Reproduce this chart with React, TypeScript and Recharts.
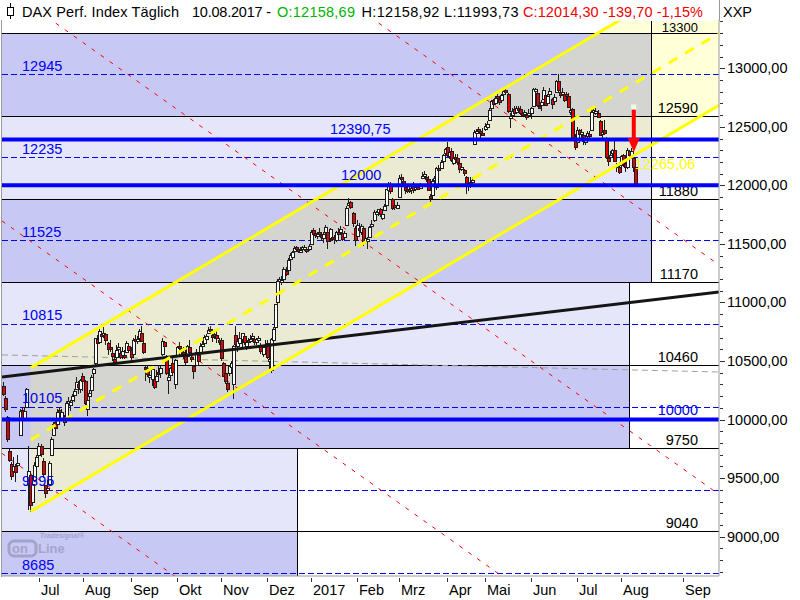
import React from 'react';
import {
  ComposedChart,
  Bar,
  Line,
  Area,
  XAxis,
  YAxis,
  ReferenceLine,
  ReferenceArea,
  ReferenceDot,
} from 'recharts';

type Ohlc = [number, number, number, number];

// DAX daily candles, open / high / low / close
const jun2016: Ohlc[] = [
  [10290, 10320, 10200, 10220], [10180, 10200, 10060, 10088], [10020, 10030, 9810, 9834],
  [9730, 9760, 9640, 9657], [9620, 9640, 9490, 9519], [9560, 9680, 9540, 9606],
  [9600, 9620, 9470, 9550], [9610, 9700, 9580, 9631], [9870, 10090, 9860, 10072],
  [10080, 10110, 9970, 10015], [10010, 10110, 9990, 10071], [10110, 10270, 10100, 10257],
  [9450, 9770, 9226, 9557], [9530, 9560, 9214, 9268], [9300, 9480, 9280, 9447],
  [9480, 9640, 9470, 9612], [9600, 9700, 9520, 9680],
];
const jul2016: Ohlc[] = [
  [9700, 9800, 9650, 9776], [9770, 9790, 9680, 9709], [9650, 9670, 9500, 9532],
  [9440, 9440, 9330, 9373], [9410, 9480, 9360, 9418], [9450, 9650, 9440, 9629],
  [9700, 9850, 9690, 9833], [9870, 9980, 9860, 9964], [9980, 10000, 9900, 9930],
  [9960, 10090, 9940, 10068], [10080, 10110, 10020, 10066], [10000, 10090, 9990, 10063],
  [10030, 10040, 9950, 9981], [10010, 10160, 10000, 10142], [10150, 10190, 10080, 10156],
  [10120, 10170, 10080, 10147], [10170, 10220, 10140, 10198], [10210, 10260, 10150, 10247],
  [10260, 10360, 10250, 10319], [10300, 10330, 10220, 10274], [10260, 10350, 10230, 10337],
];
const aug2016: Ohlc[] = [
  [10370, 10400, 10250, 10330], [10330, 10340, 10130, 10144], [10090, 10180, 10030, 10170],
  [10200, 10250, 10160, 10228], [10250, 10380, 10220, 10367], [10400, 10440, 10360, 10432],
  [10480, 10700, 10470, 10693], [10690, 10720, 10620, 10650], [10660, 10770, 10640, 10755],
  [10730, 10760, 10680, 10713], [10720, 10790, 10700, 10740], [10730, 10740, 10640, 10677],
  [10650, 10660, 10550, 10603], [10620, 10680, 10580, 10603], [10570, 10590, 10500, 10544],
  [10520, 10560, 10460, 10494], [10530, 10640, 10510, 10593], [10610, 10650, 10580, 10622],
  [10570, 10590, 10510, 10530], [10550, 10620, 10520, 10587], [10550, 10590, 10510, 10544],
  [10580, 10670, 10570, 10657], [10630, 10650, 10570, 10593],
];
const sep2016: Ohlc[] = [
  [10590, 10620, 10510, 10534], [10560, 10700, 10550, 10683], [10690, 10720, 10650, 10672],
  [10670, 10710, 10640, 10687], [10700, 10770, 10680, 10752], [10740, 10800, 10660, 10675],
  [10650, 10680, 10560, 10573], [10450, 10460, 10330, 10431], [10440, 10470, 10370, 10386],
  [10370, 10430, 10310, 10379], [10350, 10440, 10290, 10431], [10350, 10370, 10260, 10276],
  [10330, 10420, 10320, 10373], [10410, 10470, 10370, 10393], [10400, 10460, 10360, 10436],
  [10560, 10700, 10550, 10674], [10660, 10670, 10600, 10626], [10540, 10550, 10380, 10394],
  [10340, 10390, 10220, 10362], [10380, 10450, 10330, 10438], [10480, 10530, 10380, 10405],
  [10300, 10520, 10260, 10511],
];
const oct2016: Ohlc[] = [
  [10550, 10630, 10540, 10619], [10630, 10660, 10580, 10620], [10600, 10630, 10540, 10585],
  [10580, 10620, 10520, 10569], [10560, 10590, 10460, 10490], [10540, 10640, 10530, 10624],
  [10620, 10680, 10560, 10577], [10530, 10570, 10490, 10523], [10460, 10470, 10350, 10414],
  [10470, 10600, 10460, 10580], [10550, 10560, 10480, 10503], [10570, 10650, 10560, 10631],
  [10630, 10670, 10600, 10646], [10650, 10720, 10620, 10701], [10690, 10730, 10650, 10711],
  [10740, 10790, 10730, 10761], [10770, 10800, 10740, 10757], [10720, 10730, 10660, 10709],
  [10730, 10760, 10690, 10717], [10720, 10760, 10660, 10696], [10680, 10700, 10640, 10665],
];
const nov2016: Ohlc[] = [
  [10680, 10700, 10500, 10526], [10480, 10490, 10360, 10371], [10400, 10440, 10300, 10325],
  [10310, 10370, 10230, 10259], [10400, 10470, 10380, 10456], [10450, 10500, 10420, 10482],
  [10300, 10640, 10175, 10630], [10720, 10800, 10620, 10646], [10630, 10680, 10580, 10667],
  [10650, 10750, 10640, 10693], [10690, 10740, 10610, 10735], [10710, 10730, 10640, 10664],
  [10630, 10690, 10600, 10663], [10680, 10700, 10620, 10665], [10680, 10720, 10650, 10686],
  [10700, 10740, 10680, 10713], [10690, 10700, 10640, 10662], [10660, 10700, 10640, 10689],
  [10690, 10710, 10670, 10700], [10640, 10650, 10560, 10582], [10560, 10630, 10540, 10620],
  [10640, 10680, 10610, 10640],
];
const dec2016: Ohlc[] = [
  [10650, 10680, 10520, 10534], [10500, 10560, 10410, 10513], [10420, 10700, 10400, 10684],
  [10680, 10790, 10660, 10775], [10790, 10990, 10780, 10986], [11000, 11200, 10980, 11179],
  [11180, 11220, 11150, 11203], [11190, 11230, 11150, 11190], [11200, 11300, 11190, 11284],
  [11270, 11300, 11220, 11244], [11280, 11380, 11270, 11366], [11370, 11420, 11350, 11404],
  [11390, 11440, 11380, 11427], [11440, 11480, 11430, 11464], [11470, 11480, 11440, 11468],
  [11460, 11470, 11420, 11456], [11450, 11470, 11430, 11450], [11460, 11480, 11440, 11473],
  [11470, 11490, 11440, 11475], [11460, 11470, 11420, 11451], [11460, 11500, 11440, 11481],
];
const jan2017: Ohlc[] = [
  [11500, 11620, 11490, 11599], [11620, 11640, 11560, 11585], [11590, 11600, 11550, 11584],
  [11570, 11600, 11540, 11585], [11600, 11640, 11570, 11599], [11580, 11590, 11520, 11564],
  [11550, 11600, 11510, 11583], [11600, 11660, 11550, 11646], [11600, 11620, 11460, 11521],
  [11550, 11640, 11520, 11629], [11560, 11580, 11530, 11555], [11560, 11580, 11500, 11540],
  [11530, 11610, 11520, 11599], [11600, 11640, 11570, 11597], [11600, 11650, 11580, 11630],
  [11590, 11600, 11520, 11545], [11560, 11610, 11530, 11595], [11660, 11820, 11650, 11806],
  [11830, 11890, 11820, 11848], [11860, 11870, 11800, 11815], [11760, 11770, 11640, 11681],
  [11640, 11650, 11480, 11535],
];
const feb2017: Ohlc[] = [
  [11570, 11700, 11560, 11659], [11640, 11680, 11560, 11627], [11600, 11670, 11580, 11651],
  [11640, 11650, 11480, 11509], [11520, 11580, 11500, 11549], [11540, 11560, 11460, 11543],
  [11560, 11650, 11550, 11643], [11660, 11700, 11640, 11666], [11700, 11790, 11690, 11774],
  [11770, 11780, 11740, 11771], [11770, 11800, 11740, 11794], [11800, 11810, 11730, 11757],
  [11720, 11760, 11700, 11757], [11790, 11840, 11780, 11827], [11830, 11970, 11820, 11967],
  [11960, 12030, 11950, 11998], [12000, 12030, 11930, 11948], [11880, 11890, 11790, 11804],
  [11830, 11860, 11790, 11822], [11810, 11860, 11800, 11834],
];
const mar2017: Ohlc[] = [
  [11900, 12090, 11890, 12067], [12070, 12100, 12030, 12060], [12040, 12060, 11990, 12027],
  [11990, 12000, 11920, 11958], [11970, 12000, 11930, 11967], [11970, 12010, 11930, 11967],
  [11960, 12000, 11920, 11978], [12000, 12030, 11940, 11963], [11980, 12010, 11960, 11990],
  [11990, 12010, 11960, 11989], [11980, 12020, 11970, 12009], [12070, 12110, 12050, 12083],
  [12090, 12120, 12070, 12095], [12070, 12080, 12030, 12052], [12050, 12080, 11950, 11962],
  [11910, 11930, 11860, 11905], [11920, 12050, 11900, 12040], [12050, 12080, 12020, 12064],
  [11990, 12160, 11960, 12149], [12150, 12170, 12100, 12149], [12150, 12220, 12140, 12203],
  [12210, 12270, 12190, 12257], [12280, 12320, 12250, 12313],
];
const apr2017: Ohlc[] = [
  [12330, 12370, 12240, 12257], [12250, 12300, 12220, 12282], [12290, 12320, 12200, 12218],
  [12190, 12250, 12170, 12230], [12240, 12270, 12190, 12225], [12230, 12270, 12180, 12201],
  [12190, 12200, 12110, 12139], [12140, 12180, 12120, 12154], [12130, 12140, 12080, 12109],
  [12070, 12080, 11930, 12000], [12000, 12060, 11950, 12017], [12030, 12070, 11980, 12027],
  [12040, 12070, 12010, 12048], [12350, 12470, 12340, 12455], [12460, 12480, 12420, 12467],
  [12480, 12500, 12440, 12472], [12460, 12480, 12400, 12443], [12450, 12490, 12420, 12438],
];
const may2017: Ohlc[] = [
  [12480, 12530, 12460, 12507], [12500, 12550, 12480, 12527], [12560, 12660, 12550, 12647],
  [12660, 12730, 12640, 12717], [12730, 12740, 12660, 12694], [12700, 12760, 12690, 12749],
  [12760, 12780, 12720, 12757], [12740, 12760, 12680, 12711], [12730, 12780, 12720, 12770],
  [12780, 12830, 12770, 12805], [12810, 12840, 12780, 12804], [12780, 12790, 12620, 12631],
  [12580, 12620, 12490, 12590], [12600, 12660, 12580, 12638], [12650, 12680, 12600, 12620],
  [12630, 12680, 12620, 12659], [12660, 12680, 12620, 12642], [12650, 12680, 12600, 12622],
  [12620, 12640, 12580, 12602], [12610, 12640, 12590, 12629], [12600, 12620, 12560, 12599],
  [12600, 12650, 12580, 12615],
];
const jun2017: Ohlc[] = [
  [12620, 12670, 12570, 12664], [12680, 12830, 12670, 12822], [12810, 12830, 12790, 12823],
  [12790, 12800, 12670, 12690], [12680, 12720, 12650, 12675], [12690, 12730, 12640, 12714],
  [12740, 12840, 12730, 12816], [12770, 12780, 12680, 12690], [12700, 12780, 12690, 12765],
  [12780, 12830, 12750, 12806], [12740, 12750, 12660, 12692], [12720, 12780, 12700, 12752],
  [12800, 12900, 12790, 12889], [12890, 12950, 12800, 12814], [12800, 12820, 12740, 12775],
  [12780, 12830, 12760, 12794], [12780, 12790, 12710, 12733], [12780, 12800, 12740, 12771],
  [12760, 12790, 12670, 12672], [12630, 12680, 12600, 12647], [12650, 12660, 12380, 12416],
  [12420, 12440, 12300, 12325],
];
const jul2017: Ohlc[] = [
  [12370, 12500, 12350, 12475], [12470, 12480, 12400, 12437], [12440, 12480, 12400, 12453],
  [12430, 12440, 12350, 12381], [12380, 12420, 12340, 12389], [12420, 12460, 12400, 12445],
  [12440, 12460, 12390, 12437], [12470, 12640, 12460, 12627], [12640, 12660, 12610, 12641],
  [12620, 12660, 12600, 12631], [12620, 12640, 12570, 12587], [12550, 12560, 12420, 12430],
  [12440, 12470, 12400, 12452], [12470, 12560, 12430, 12447], [12400, 12410, 12220, 12240],
  [12230, 12260, 12170, 12209], [12240, 12290, 12210, 12263], [12280, 12310, 12250, 12305],
  [12300, 12390, 12200, 12212], [12170, 12190, 12110, 12162], [12160, 12200, 12100, 12118],
];
const aug2017: Ohlc[] = [
  [12170, 12260, 12150, 12251], [12260, 12270, 12160, 12181], [12190, 12210, 12120, 12154],
  [12160, 12320, 12140, 12298], [12290, 12300, 12240, 12257], [12250, 12320, 12230, 12293],
  [12230, 12240, 12110, 12154], [12158.69, 12158.92, 11993.73, 12014.3],
];
const candleMonths = [
  jun2016, jul2016, aug2016, sep2016, oct2016, nov2016, dec2016,
  jan2017, feb2017, mar2017, apr2017, may2017, jun2017, jul2017, aug2017,
];

// x axis = trading day number (0 = first candle)
const monthTicks = [17, 38, 61, 83, 104, 126, 147, 169, 189, 212, 230, 252, 274, 295, 324.5];
const monthNames = ['Jul', 'Aug', 'Sep', 'Okt', 'Nov', 'Dez', '2017', 'Feb', 'Mrz', 'Apr', 'Mai', 'Jun', 'Jul', 'Aug', 'Sep'];

const priceTicks = [9000, 9500, 10000, 10500, 11000, 11500, 12000, 12500, 13000];
const priceSubTicks = [
  8700, 8800, 8900, 9000, 9100, 9200, 9300, 9400, 9500, 9600, 9700, 9800, 9900,
  10000, 10100, 10200, 10300, 10400, 10500, 10600, 10700, 10800, 10900,
  11000, 11100, 11200, 11300, 11400, 11500, 11600, 11700, 11800, 11900,
  12000, 12100, 12200, 12300, 12400, 12500, 12600, 12700, 12800, 12900,
  13000, 13100, 13200, 13300, 13400,
];

const xDomain = [-0.67, 341.7];
const yDomain = [8664, 13412];

// 710-point boxes
const boxTop = [13300, 12590, 11880, 11170, 10460, 9750, 9040];
const boxBottom = [12590, 11880, 11170, 10460, 9750, 9040, 8330];
const boxEnd = [309.7, 309.7, 309.7, 299.2, 299.2, 140.2, 140.2];

const dashedLevels = [12945, 12235, 11525, 10815, 10105, 9395, 8685];
const keyLevels = [12390.75, 12000, 10000];
const keyLevelText = ['12390,75', '12000', '10000'];

// trend channel from the brexit low
const channelLow = [{ i: 13, v: 9214 }, { i: 341.7, v: 12684 }];
const channelMid = [{ i: 13, v: 9827.5 }, { i: 341.7, v: 13297.5 }];
const channelHigh = [{ i: 13, v: 10441 }, { i: 341.7, v: 13911 }];
const channelBand = [{ i: 13, band: [9214, 10441] }, { i: 341.7, band: [12684, 13911] }];
const channelValue = { i: 302, v: 12265.06 };

const longTrend = [{ i: -0.67, v: 10364 }, { i: 341.7, v: 11090 }];
const greyTrend = [{ i: -0.67, v: 10552 }, { i: 341.7, v: 10406 }];
const redFan = [
  [{ i: -0.67, v: 15671 }, { i: 341.7, v: 11321 }],
  [{ i: -0.67, v: 13711 }, { i: 341.7, v: 9361 }],
  [{ i: -0.67, v: 11696 }, { i: 341.7, v: 7346 }],
  [{ i: -0.67, v: 9711 }, { i: 341.7, v: 5361 }],
];

// sell signal arrow on the last bars
const signalBar = 301;
const signalTop = 12668;
const signalShaft = [12655, 12395];
const signalTip = 12285;

const FONT = '"Liberation Sans", Arial, sans-serif';
const fmtPrice = (v: number) => v.toFixed(2).replace('.', ',');

const candles = (() => {
  const rows: any[] = [];
  let i = 0;
  for (const month of candleMonths) {
    for (const [o, h, l, c] of month) {
      rows.push({ i, o, h, l, c, range: [l, h] });
      i++;
    }
  }
  return rows;
})();

const Candle = (props: any) => {
  const { x, y, width, height, payload } = props;
  if (!payload) return null;
  const { o, h, l, c } = payload;
  const top = Math.min(y, y + height);
  const span = Math.abs(height);
  const toY = (v: number) => top + ((h - v) / (h - l)) * span;
  const k = Math.floor(x + width / 2);
  const r1 = Math.round(toY(Math.max(o, c)));
  const r2 = Math.max(Math.round(toY(Math.min(o, c))), r1 + 2);
  const up = c >= o;
  return (
    <g>
      <rect x={k} y={Math.round(top)} width={1} height={Math.max(Math.round(span), 1)} fill="#1c1c1c" />
      <rect x={k - 1} y={r1} width={4} height={r2 - r1 + 1} fill="#1c1c1c" />
      {r2 - r1 > 1 && <rect x={k} y={r1 + 1} width={2} height={r2 - r1 - 1} fill={up ? '#ffffff' : '#e00000'} />}
    </g>
  );
};

const MonthTick = (props: any) => {
  const { x, y, payload } = props;
  const k = monthTicks.indexOf(payload.value);
  const px = Math.round(x) + 0.5;
  return (
    <g>
      <line x1={px} x2={px} y1={y + 2} y2={y + 6} stroke="#333" />
      <text x={px + 1.5} y={y + 19} fill="#000" fontSize={14.5} fontFamily={FONT}>
        {monthNames[k]}
      </text>
    </g>
  );
};

const PriceTick = (props: any) => {
  const { x, y, payload } = props;
  const major = priceTicks.includes(payload.value);
  const py = Math.round(y) + 0.5;
  return (
    <g>
      <line x1={x + 1} x2={x + (major ? 6 : 4)} y1={py} y2={py} stroke="#333" />
      {major && (
        <text x={x + 8} y={y + 5} fill="#000" fontSize={14.5} fontFamily={FONT}>
          {fmtPrice(payload.value)}
        </text>
      )}
    </g>
  );
};

const LevelLabel = (props: any) => {
  const { viewBox, text, color, left, right, lift, size } = props;
  if (!viewBox) return null;
  const fromLeft = left !== undefined;
  const x = fromLeft ? viewBox.x + left : viewBox.x + viewBox.width - right;
  return (
    <text x={x} y={viewBox.y - lift} textAnchor={fromLeft ? 'start' : 'end'} fill={color} fontSize={size || 14.5} fontFamily={FONT}>
      {text}
    </text>
  );
};

const ChannelLabel = (props: any) => {
  const { viewBox, text } = props;
  if (!viewBox) return null;
  const cx = viewBox.x + viewBox.width / 2;
  const cy = viewBox.y + viewBox.height / 2;
  return (
    <text x={cx - 1} y={cy + 14.5} fill="#ffff00" fontSize={14.5} fontFamily={FONT}>
      {text}
    </text>
  );
};

const App = () => {
  return (
    <div style={{ position: 'absolute', left: 0, top: 0, width: 800, height: 600, background: '#fff' }}>
      <ComposedChart width={800} height={600} data={candles} margin={{ top: 20, right: 0, bottom: 0, left: 2 }}>
        <XAxis
          dataKey="i"
          type="number"
          domain={xDomain}
          allowDataOverflow
          ticks={monthTicks}
          interval={0}
          tick={<MonthTick />}
          tickLine={false}
          tickSize={0}
          tickMargin={0}
          height={24}
          axisLine={{ stroke: '#9a9a9a' }}
        />
        <YAxis
          orientation="right"
          type="number"
          domain={yDomain}
          allowDataOverflow
          ticks={priceSubTicks}
          interval={0}
          tick={<PriceTick />}
          tickLine={false}
          tickSize={0}
          tickMargin={0}
          width={81}
          axisLine={{ stroke: '#9a9a9a' }}
        />

        {boxTop.map((top, k) => (
          <ReferenceArea
            key={`box${k}`}
            x1={xDomain[0]}
            x2={boxEnd[k]}
            y1={boxBottom[k]}
            y2={top}
            fill={k % 2 === 0 ? '#c8c8f5' : '#e6e6fa'}
            fillOpacity={1}
            stroke="none"
            ifOverflow="hidden"
            zIndex={110}
          />
        ))}

        <Area
          data={channelBand}
          dataKey="band"
          type="linear"
          stroke="none"
          fill="#ffff4d"
          fillOpacity={0.22}
          isAnimationActive={false}
          activeDot={false}
          zIndex={120}
        />

        {boxTop.map((top, k) => (
          <ReferenceLine
            key={`edge${top}`}
            y={top}
            stroke="#000"
            strokeWidth={1}
            shapeRendering="crispEdges"
            zIndex={130}
            label={
              k === 0 ? (
                <LevelLabel text={String(top)} color="#000" right={21} lift={1.2} size={13} />
              ) : (
                <LevelLabel text={String(top)} color="#000" right={21} lift={3.5} />
              )
            }
          />
        ))}
        <ReferenceLine segment={[{ x: boxEnd[0], y: yDomain[1] }, { x: boxEnd[0], y: boxBottom[2] }]} stroke="#000" shapeRendering="crispEdges" ifOverflow="hidden" zIndex={130} />
        <ReferenceLine segment={[{ x: boxEnd[3], y: boxTop[3] }, { x: boxEnd[3], y: boxBottom[4] }]} stroke="#000" shapeRendering="crispEdges" ifOverflow="hidden" zIndex={130} />
        <ReferenceLine segment={[{ x: boxEnd[5], y: boxTop[5] }, { x: boxEnd[5], y: yDomain[0] }]} stroke="#000" shapeRendering="crispEdges" ifOverflow="hidden" zIndex={130} />

        {dashedLevels.map((v) => (
          <ReferenceLine
            key={`dash${v}`}
            y={v}
            stroke="#0000ff"
            strokeDasharray="6 3"
            strokeWidth={1}
            shapeRendering="crispEdges"
            zIndex={140}
          />
        ))}

        <Line data={greyTrend} dataKey="v" type="linear" stroke="#a0a0a0" strokeWidth={1} strokeDasharray="6 4" dot={false} activeDot={false} isAnimationActive={false} zIndex={150} />
        {redFan.map((seg, k) => (
          <Line key={`fan${k}`} data={seg} dataKey="v" type="linear" stroke="#ff0000" strokeWidth={1} strokeDasharray="4 7" dot={false} activeDot={false} isAnimationActive={false} zIndex={160} />
        ))}

        <Bar dataKey="range" barSize={10} shape={(p: any) => <Candle {...p} />} isAnimationActive={false} zIndex={300} />

        <Line data={longTrend} dataKey="v" type="linear" stroke="#151515" strokeWidth={3} dot={false} activeDot={false} isAnimationActive={false} zIndex={410} />
        <Line data={channelLow} dataKey="v" type="linear" stroke="#ffff00" strokeWidth={3} dot={false} activeDot={false} isAnimationActive={false} zIndex={420} />
        <Line data={channelHigh} dataKey="v" type="linear" stroke="#ffff00" strokeWidth={3} dot={false} activeDot={false} isAnimationActive={false} zIndex={420} />
        <Line data={channelMid} dataKey="v" type="linear" stroke="#ffff00" strokeWidth={3} strokeDasharray="10 9" dot={false} activeDot={false} isAnimationActive={false} zIndex={420} />

        {keyLevels.map((v, k) => (
          <ReferenceLine
            key={`key${v}`}
            y={v}
            stroke="#0000ff"
            strokeWidth={4}
            zIndex={430}
            label={
              k === 2 ? (
                <LevelLabel text={keyLevelText[k]} color="#0000ee" right={21} lift={5} />
              ) : (
                <LevelLabel text={keyLevelText[k]} color="#0000ee" left={k === 0 ? 328 : 339} lift={k === 0 ? 6 : 5} />
              )
            }
          />
        ))}

        {/* level labels drawn above the candles */}
        {dashedLevels.map((v) => (
          <ReferenceLine
            key={`dashLabel${v}`}
            y={v}
            stroke="none"
            strokeOpacity={0}
            zIndex={435}
            label={<LevelLabel text={String(v)} color="#0000ee" left={20} lift={4} />}
          />
        ))}

        <ReferenceDot
          x={channelValue.i}
          y={channelValue.v}
          r={1}
          shape={() => <g />}
          zIndex={440}
          label={<ChannelLabel text={fmtPrice(channelValue.v)} />}
        />

        <ReferenceLine
          segment={[{ x: signalBar, y: signalShaft[0] }, { x: signalBar, y: signalShaft[1] }]}
          stroke="#ff0000"
          strokeWidth={4}
          zIndex={450}
        />
        <ReferenceDot
          x={signalBar}
          y={signalTip}
          r={6}
          zIndex={450}
          shape={(p: any) => (
            <polygon points={`${p.cx - 6},${p.cy - 14} ${p.cx + 6},${p.cy - 14} ${p.cx},${p.cy}`} fill="#ff0000" />
          )}
        />
        <ReferenceDot
          x={signalBar}
          y={signalTop}
          r={3}
          zIndex={450}
          shape={(p: any) => <rect x={p.cx - 2.5} y={p.cy - 2.5} width={5} height={5} fill="#fffff0" />}
        />
      </ComposedChart>

      <svg width={800} height={600} style={{ position: 'absolute', left: 0, top: 0, pointerEvents: 'none' }}>
        <rect x={0} y={0} width={712} height={21} fill="#fff" />
        <line x1={1.5} x2={1.5} y1={20} y2={577} stroke="#9a9a9a" />
        <line x1={719.5} x2={719.5} y1={0} y2={21} stroke="#9a9a9a" />
        <line x1={10.5} x2={10.5} y1={3} y2={19} stroke="#000" />
        <rect x={7.5} y={7.5} width={6} height={8} fill="#fff" stroke="#000" />
        <g fontFamily={FONT} fontSize={14.5}>
          <text x={22} y={16.5} fill="#000" textLength={157}>DAX Perf. Index Täglich</text>
          <text x={192} y={16.5} fill="#000" textLength={79}>10.08.2017 -</text>
          <text x={277} y={16.5} fill="#00b400" textLength={78}>O:12158,69</text>
          <text x={361.5} y={16.5} fill="#000" textLength={157}>H:12158,92 L:11993,73</text>
          <text x={523} y={16.5} fill="#f00000" textLength={180}>C:12014,30 -139,70 -1,15%</text>
          <text x={723} y={17} fill="#000">XXP</text>
        </g>
        <g opacity={0.4} fontFamily={FONT} fontWeight="bold" fill="#6e6e8c">
          <text x={40} y={538} fontSize={7} fontStyle="italic">Tradesignal®</text>
          <rect x={9} y={541} width={27} height={15} rx={5} fill="none" stroke="#6e6e8c" strokeWidth={3} />
          <text x={12} y={553} fontSize={13}>on</text>
          <text x={38} y={553} fontSize={13}>Line</text>
        </g>
      </svg>
    </div>
  );
};

export default App;
